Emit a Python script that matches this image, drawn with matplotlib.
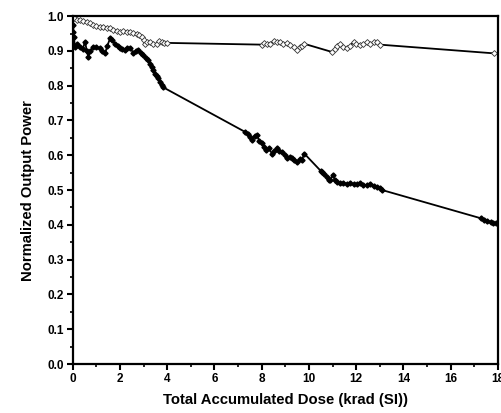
import matplotlib
matplotlib.use("Agg")
import matplotlib.pyplot as plt
from matplotlib.ticker import MultipleLocator

# Filled diamonds (lower series)
dose_filled = [0.02, 0.03, 0.05, 0.1, 0.2, 0.31, 0.42, 0.52, 0.6, 0.66, 0.75, 0.87, 1.0, 1.16,
               1.25, 1.37, 1.47, 1.58, 1.68, 1.79, 1.9, 2.0, 2.1, 2.2, 2.3, 2.43, 2.57, 2.68,
               2.78, 2.9, 2.99, 3.1, 3.2, 3.28, 3.35, 3.42, 3.49, 3.56, 3.63, 3.7, 3.77, 3.84,
               7.3, 7.4, 7.5, 7.6, 7.7, 7.8, 7.9, 8.0, 8.1, 8.2, 8.3, 8.43, 8.54, 8.64, 8.75,
               8.86, 8.97, 9.07, 9.18, 9.28, 9.38, 9.49, 9.6, 9.7, 9.8,
               10.5, 10.55, 10.65, 10.76, 10.85, 10.9, 11.0, 11.1, 11.19, 11.3, 11.46, 11.6,
               11.75, 11.9, 12.05, 12.17, 12.3, 12.46, 12.6, 12.75, 12.88, 13.0, 13.1,
               17.27, 17.4, 17.55, 17.7, 17.8, 17.9]
power_filled = [0.975, 0.955, 0.94, 0.91, 0.92, 0.912, 0.905, 0.926, 0.90, 0.883, 0.90, 0.912, 0.91, 0.907,
                0.90, 0.893, 0.915, 0.936, 0.93, 0.921, 0.915, 0.907, 0.905, 0.902, 0.908, 0.907, 0.895, 0.90,
                0.902, 0.895, 0.888, 0.88, 0.874, 0.862, 0.854, 0.845, 0.835, 0.828, 0.821, 0.81, 0.802, 0.795,
                0.667, 0.66, 0.652, 0.645, 0.655, 0.658, 0.64, 0.634, 0.625, 0.615, 0.62, 0.605, 0.612, 0.62, 0.612,
                0.61, 0.60, 0.591, 0.595, 0.591, 0.585, 0.581, 0.588, 0.586, 0.605,
                0.555, 0.553, 0.545, 0.538, 0.53, 0.529, 0.543, 0.53, 0.524, 0.52, 0.52, 0.518,
                0.52, 0.516, 0.518, 0.519, 0.514, 0.514, 0.518, 0.512, 0.51, 0.505, 0.50,
                0.419, 0.414, 0.412, 0.408, 0.405, 0.404]

# Open diamonds (upper series)
dose_open = [0.05, 0.2, 0.31, 0.45, 0.6, 0.73, 0.85, 1.0, 1.16, 1.3, 1.45, 1.58, 1.72, 1.86, 2.0,
             2.15, 2.3, 2.43, 2.57, 2.71, 2.82, 2.92, 3.0, 3.06, 3.15, 3.27, 3.4, 3.56, 3.66, 3.77,
             3.88, 3.98,
             8.0, 8.1, 8.22, 8.36, 8.5, 8.64, 8.78, 8.9, 9.05, 9.2, 9.35, 9.49, 9.6, 9.7, 9.77,
             10.97, 11.1, 11.2, 11.33, 11.45, 11.6, 11.75, 11.89, 12.0, 12.15, 12.3, 12.45, 12.6,
             12.75, 12.88, 13.0, 17.82]
power_open = [0.995, 0.99, 0.989, 0.985, 0.982, 0.979, 0.975, 0.972, 0.969, 0.97, 0.966, 0.965, 0.96, 0.958, 0.955,
              0.958, 0.955, 0.955, 0.952, 0.95, 0.945, 0.94, 0.93, 0.921, 0.925, 0.926, 0.92, 0.921, 0.928, 0.926,
              0.924, 0.923,
              0.918, 0.922, 0.921, 0.921, 0.928, 0.925, 0.926, 0.92, 0.922, 0.917, 0.91, 0.902, 0.91, 0.915, 0.921,
              0.897, 0.905, 0.915, 0.921, 0.912, 0.907, 0.915, 0.926, 0.92, 0.918, 0.921, 0.925, 0.92,
              0.926, 0.926, 0.918, 0.893]

x_ticks = [0, 2, 4, 6, 8, 10, 12, 14, 16, 18]
y_ticks = [0.0, 0.1, 0.2, 0.3, 0.4, 0.5, 0.6, 0.7, 0.8, 0.9, 1.0]

plt.rcParams['font.family'] = ['Liberation Sans', 'DejaVu Sans']

fig = plt.figure(figsize=(5.02, 4.13), dpi=100)
ax = fig.add_axes([0.1448, 0.1186, 0.992 - 0.1448, 0.961 - 0.1186])

ax.plot(dose_open, power_open, color='black', lw=1.3, marker='D', ms=3.0,
        markerfacecolor='white', markeredgecolor='#333333', markeredgewidth=0.6)
ax.plot(dose_filled, power_filled, color='black', lw=1.3, marker='D', ms=2.6,
        markerfacecolor='black', markeredgecolor='black')

ax.set_xlim(0, 18)
ax.set_ylim(0, 1.0)
ax.set_xticks(x_ticks)
ax.set_yticks(y_ticks)
ax.set_xticklabels([str(t) for t in x_ticks], fontweight='bold', fontsize=8.5)
ax.set_yticklabels([f"{t:.1f}" for t in y_ticks], fontweight='bold', fontsize=8.5)
ax.xaxis.set_minor_locator(MultipleLocator(1))
ax.yaxis.set_minor_locator(MultipleLocator(0.05))
ax.tick_params(which='major', direction='out', length=4.5, width=1.5, pad=2)
ax.tick_params(which='minor', direction='out', length=2.5, width=1.2)
for s in ax.spines.values():
    s.set_linewidth(1.6)

ax.set_xlabel("Total Accumulated Dose (krad (SI))", fontweight='bold', fontsize=10.7, labelpad=6)
ax.set_ylabel("Normalized Output Power", fontweight='bold', fontsize=10.7, labelpad=9)

fig.savefig("out.png", dpi=100)
